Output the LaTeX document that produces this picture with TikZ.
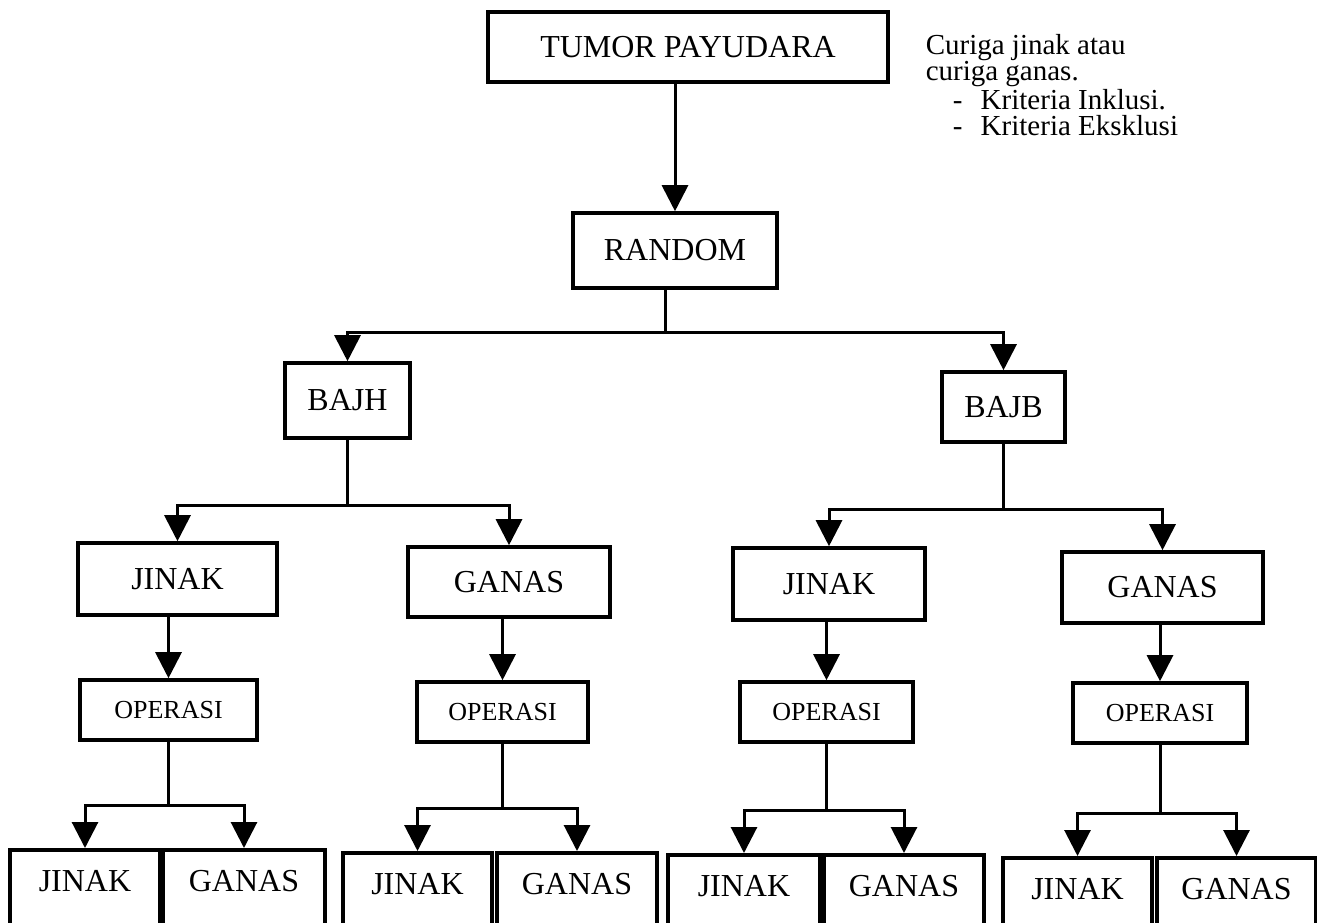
\documentclass[tikz,border=0pt]{standalone}
\usepackage{fontspec}
\setmainfont{Liberation Serif}
\usetikzlibrary{arrows.meta}

\tikzset{every picture/.style={line width=0.75pt}}
\tikzset{
  box/.style={draw, line width=1.8pt, inner sep=0pt, font=\fontsize{16}{18}\selectfont},
  opbox/.style={box, minimum height=30pt, font=\fontsize{13}{15}\selectfont},
  endbox/.style={box, anchor=north, text height=21pt, text depth=25pt},
  conn/.style={line width=1.5pt},
  arr/.style={conn, -{Triangle[width=13pt,length=13pt]}}
}

\begin{document}
\begin{tikzpicture}[x=0.5pt,y=0.5pt,yscale=-1,xscale=1]
\useasboundingbox (0,0) rectangle (1317,922);

% Text Node
\draw (688,47) node [box, minimum width=200pt, minimum height=35pt] (tumor) {TUMOR PAYUDARA};
% Text Node
\draw (925,34) node [anchor=north west, align=left, inner sep=0pt, font=\fontsize{14.5}{13}\selectfont] (note)
  {Curiga jinak atau\\curiga ganas.\\\hspace*{13.5pt}\makebox[14pt][l]{-}Kriteria Inklusi.\\\hspace*{13.5pt}\makebox[14pt][l]{-}Kriteria Eksklusi};
% Text Node
\draw (675,250.5) node [box, minimum width=102pt, minimum height=37.5pt] (random) {RANDOM};
% Text Node
\draw (347.5,400.5) node [box, minimum width=62.5pt, minimum height=37.5pt] (bajh) {BAJH};
% Text Node
\draw (1003.5,407) node [box, minimum width=61.5pt, minimum height=35pt] (bajb) {BAJB};

% Text Node
\draw (177.5,579) node [box, minimum width=99.5pt, minimum height=36pt] (jinakA) {JINAK};
% Text Node
\draw (509,582) node [box, minimum width=101pt, minimum height=35pt] (ganasA) {GANAS};
% Text Node
\draw (829,584) node [box, minimum width=96pt, minimum height=36pt] (jinakB) {JINAK};
% Text Node
\draw (1162.5,587.5) node [box, minimum width=100.5pt, minimum height=35.5pt] (ganasB) {GANAS};

% Text Node
\draw (168.5,710) node [opbox, minimum width=88.5pt] (opA) {OPERASI};
% Text Node
\draw (502.5,712) node [opbox, minimum width=85.5pt] (opB) {OPERASI};
% Text Node
\draw (826.5,712) node [opbox, minimum width=86.5pt] (opC) {OPERASI};
% Text Node
\draw (1160,713) node [opbox, minimum width=87pt] (opD) {OPERASI};

% Text Node
\draw (85,848) node [endbox, minimum width=75pt] (jinakA1) {JINAK};
\draw (244,848) node [endbox, minimum width=81pt] (ganasA1) {GANAS};
% Text Node
\draw (417.5,851) node [endbox, minimum width=74.5pt] (jinakA2) {JINAK};
\draw (577,851) node [endbox, minimum width=80pt] (ganasA2) {GANAS};
% Text Node
\draw (744,853) node [endbox, minimum width=76pt] (jinakB1) {JINAK};
\draw (904,853) node [endbox, minimum width=80pt] (ganasB1) {GANAS};
% Text Node
\draw (1077.5,856) node [endbox, minimum width=74.5pt] (jinakB2) {JINAK};
\draw (1236.5,856) node [endbox, minimum width=79.5pt] (ganasB2) {GANAS};

%Straight Lines
\draw [arr] (tumor.south -| random.north) -- (random.north);
%Straight Lines
\draw [conn] (random.south -| 665,0) -- (665,332) coordinate (sR);
\draw [arr] (sR) -| (bajh.north);
\draw [arr] (sR) -| (bajb.north);

%Straight Lines
\draw [conn] (bajh.south) -- (bajh.south |- 0,505) coordinate (sH);
\draw [arr] (sH) -| (jinakA.north);
\draw [arr] (sH) -| (ganasA.north);
%Straight Lines
\draw [conn] (bajb.south) -- (bajb.south |- 0,509) coordinate (sB);
\draw [arr] (sB) -| (jinakB.north);
\draw [arr] (sB) -| (ganasB.north);

%Straight Lines
\draw [arr] (jinakA.south -| opA.north) -- (opA.north);
\draw [arr] (ganasA.south -| opB.north) -- (opB.north);
\draw [arr] (jinakB.south -| opC.north) -- (opC.north);
\draw [arr] (ganasB.south -| opD.north) -- (opD.north);

%Straight Lines
\draw [conn] (opA.south) -- (opA.south |- 0,805) coordinate (sA1);
\draw [arr] (sA1) -| (jinakA1.north);
\draw [arr] (sA1) -| (ganasA1.north);
%Straight Lines
\draw [conn] (opB.south) -- (opB.south |- 0,808) coordinate (sA2);
\draw [arr] (sA2) -| (jinakA2.north);
\draw [arr] (sA2) -| (ganasA2.north);
%Straight Lines
\draw [conn] (opC.south) -- (opC.south |- 0,810) coordinate (sB1);
\draw [arr] (sB1) -| (jinakB1.north);
\draw [arr] (sB1) -| (ganasB1.north);
%Straight Lines
\draw [conn] (opD.south) -- (opD.south |- 0,813) coordinate (sB2);
\draw [arr] (sB2) -| (jinakB2.north);
\draw [arr] (sB2) -| (ganasB2.north);

\end{tikzpicture}
\end{document}
